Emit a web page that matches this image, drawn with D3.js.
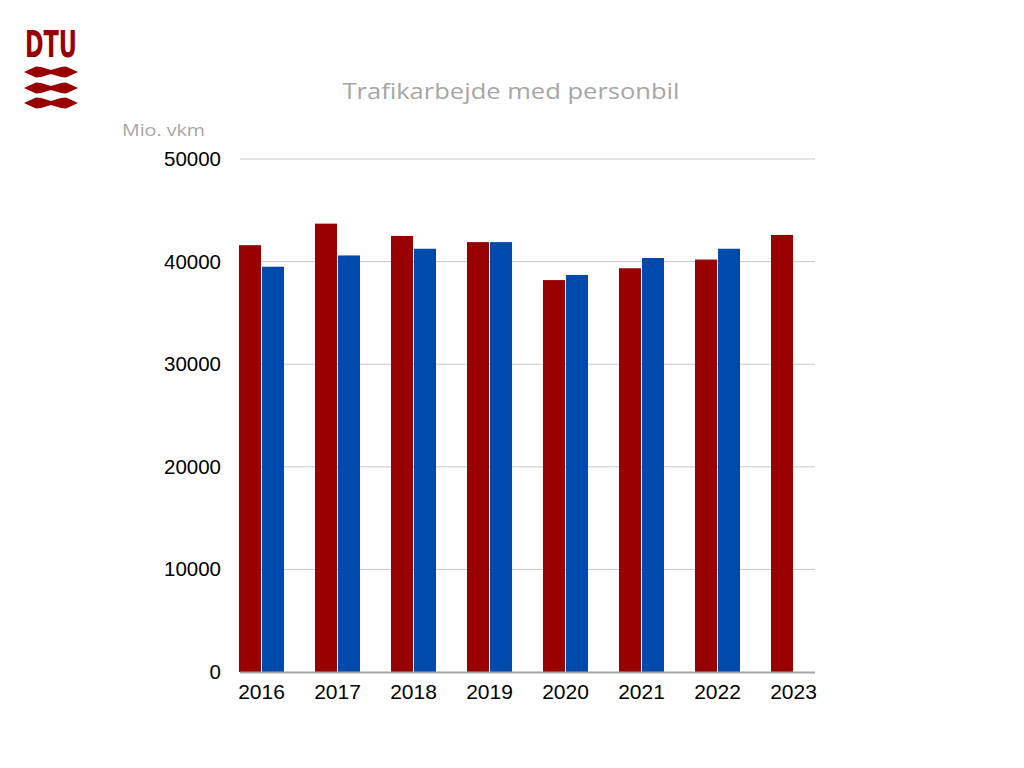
<!DOCTYPE html>
<html>
<head>
<meta charset="utf-8">
<script src="https://cdn.jsdelivr.net/npm/d3@7"></script>
<style>
	body { margin: 0; background: #fff; }
</style>
</head>
<body>
<script>
// data (Mio. vkm)
const years = ["2016", "2017", "2018", "2019", "2020", "2021", "2022", "2023"];
const seriesRed = [41600, 43700, 42500, 41900, 38200, 39350, 40200, 42600];
const seriesBlue = [39500, 40600, 41250, 41900, 38700, 40350, 41250, null];
const yTicks = [0, 10000, 20000, 30000, 40000, 50000];

const width = 1024, height = 768;
const red = "#990000", blue = "#004aad";

let svg = d3.select("body").append("svg")
	.attr("width", width)
	.attr("height", height);

let x = d3.scaleBand()
	.domain(years)
	.range([223.5, 831.5]);

let y = d3.scaleLinear()
	.domain([0, 50000])
	.range([672, 159]);

let barW = 22;

// gridlines
svg.append("g")
	.selectAll("line")
	.data(yTicks.filter(t => t > 0))
	.enter().append("line")
	.attr("x1", 240).attr("x2", 815)
	.attr("y1", d => y(d)).attr("y2", d => y(d))
	.attr("stroke", "#c8c8c8")
	.attr("stroke-width", 1);

// y tick labels
svg.append("g")
	.selectAll("text")
	.data(yTicks)
	.enter().append("text")
	.attr("x", 221)
	.attr("y", d => y(d) + 7)
	.attr("text-anchor", "end")
	.attr("font-family", "Liberation Sans, Arial, sans-serif")
	.attr("font-size", 20.5)
	.attr("fill", "#000")
	.text(d => d);

// bars
let rows = years.map((yr, i) => ({ year: yr, red: seriesRed[i], blue: seriesBlue[i] }));

let group = svg.selectAll(".year")
	.data(rows)
	.enter().append("g")
	.attr("class", "year");

group.append("rect")
	.attr("x", d => x(d.year) + x.bandwidth() / 2 - barW - 0.5)
	.attr("y", d => y(d.red))
	.attr("width", barW)
	.attr("height", d => y(0) - y(d.red))
	.attr("fill", red);

group.filter(d => d.blue != null)
	.append("rect")
	.attr("x", d => x(d.year) + x.bandwidth() / 2 + 0.5)
	.attr("y", d => y(d.blue))
	.attr("width", barW)
	.attr("height", d => y(0) - y(d.blue))
	.attr("fill", blue);

// baseline
svg.append("line")
	.attr("x1", 240).attr("x2", 815)
	.attr("y1", y(0) + 0.5).attr("y2", y(0) + 0.5)
	.attr("stroke", "#a6a6a6")
	.attr("stroke-width", 2);

// x labels
svg.append("g")
	.selectAll("text")
	.data(years)
	.enter().append("text")
	.attr("x", d => x(d) + x.bandwidth() / 2)
	.attr("y", 699)
	.attr("text-anchor", "middle")
	.attr("font-family", "Liberation Sans, Arial, sans-serif")
	.attr("font-size", 21)
	.attr("fill", "#000")
	.text(d => d);

// title and unit
svg.append("text")
	.attr("x", 511)
	.attr("y", 99)
	.attr("text-anchor", "middle")
	.attr("font-family", "Open Sans, sans-serif")
	.attr("font-size", 22)
	.attr("fill", "#a6a6a6")
	.attr("textLength", 337)
	.attr("lengthAdjust", "spacingAndGlyphs")
	.text("Trafikarbejde med personbil");

svg.append("text")
	.attr("x", 122)
	.attr("y", 136)
	.attr("font-family", "Open Sans, sans-serif")
	.attr("font-size", 16.5)
	.attr("fill", "#a6a6a6")
	.attr("textLength", 83)
	.attr("lengthAdjust", "spacingAndGlyphs")
	.text("Mio. vkm");

// DTU logo
let logo = svg.append("g").attr("fill", red);
logo.append("text")
	.attr("x", 25)
	.attr("y", 57)
	.attr("font-family", "DejaVu Sans Condensed, DejaVu Sans, sans-serif")
	.attr("font-stretch", "condensed")
	.attr("font-weight", "bold")
	.attr("font-size", 37)
	.attr("textLength", 52)
	.attr("lengthAdjust", "spacingAndGlyphs")
	.text("DTU");

let wave = "M0,0 L12,-5.5 L17,-5 L27,-2 L37,-5 L42,-5.5 L54,0 L42,5.5 L37,5 L27,2 L17,5 L12,5.5 Z";
[72, 88, 103].forEach(cy => {
	logo.append("path")
		.attr("d", wave)
		.attr("transform", `translate(24,${cy})`);
});
</script>
</body>
</html>
